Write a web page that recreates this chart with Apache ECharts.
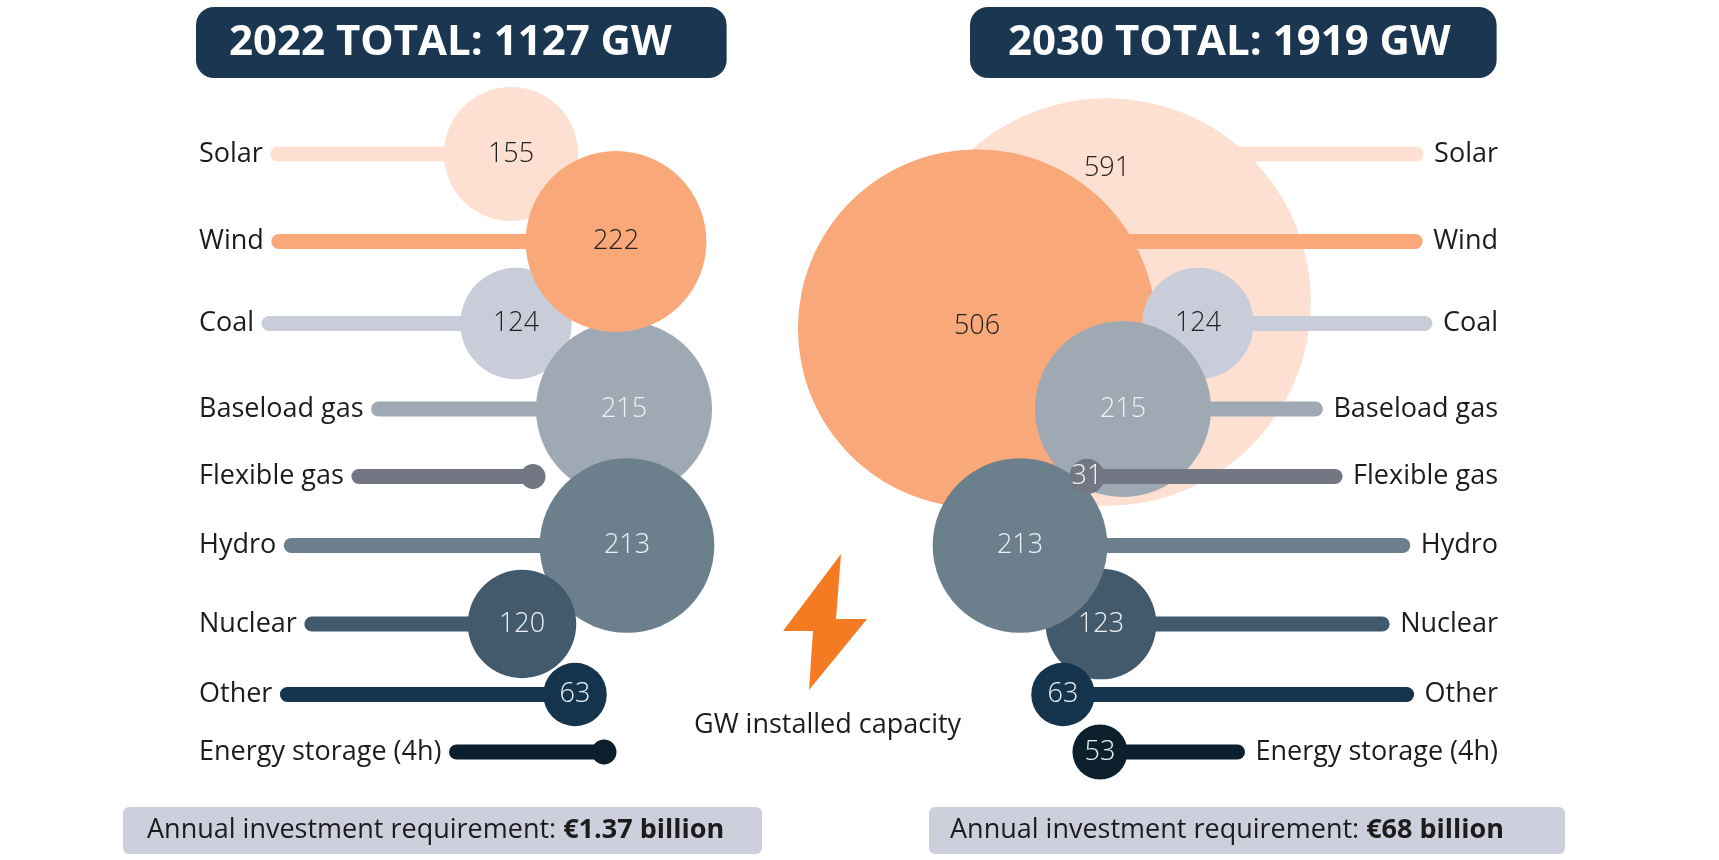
<!DOCTYPE html>
<html>
<head>
<meta charset="utf-8">
<title>GW installed capacity 2022 / 2030</title>
<script src="https://cdn.jsdelivr.net/npm/echarts@6/dist/echarts.min.js"></script>
<style>
    html, body { margin: 0; padding: 0; background: #fff; }
    #main { width: 1719px; height: 860px; }
</style>
</head>
<body>
<div id="main"></div>
<script>
// data
var categories = ['Solar', 'Wind', 'Coal', 'Baseload gas', 'Flexible gas', 'Hydro', 'Nuclear', 'Other', 'Energy storage (4h)'];
var gw2022 = [155, 222, 124, 215, 10, 213, 120, 63, 5];
var gw2030 = [591, 506, 124, 215, 31, 213, 123, 63, 53];
var invest2022 = '€1.37 billion';
var invest2030 = '€68 billion';

// layout of the infographic (axis units, the axes span the whole page)
var rowY = [154, 241.5, 323.5, 409, 476.5, 545.5, 624, 694.5, 752];
var dotX2022 = [511, 616, 516, 624, 533, 627, 522, 575, 604];
var dotX2030 = [1107, 977, 1198, 1123, 1087, 1020, 1101, 1063, 1100];
var drop2022 = [0, 0, 0, 0, 0, 0, 0, 0, 0];
var drop2030 = [148, 87, 0, 0, 0, 0, 0, 0, 0];
var labelDrop2022 = [0, 0, 0, 0, 0, 0, 0, 0, 0];
var labelDrop2030 = [14, 85, 0, 0, 0, 0, 0, 0, 0];
var order2022 = [0, 2, 3, 1, 4, 5, 6, 7, 8];
var order2030 = [0, 1, 2, 3, 6, 5, 4, 7, 8];

var colors = ['#fde0d2', '#f9a87a', '#c9cdd9', '#9ea9b3', '#737683', '#6c7f8c', '#435a6d', '#15354f', '#0b1f2d'];
var darkNumber = [true, true, true, false, false, false, false, false, false];

var FONT = 'Open Sans';
var canvasCtx = document.createElement('canvas').getContext('2d');
function textWidth(s, size) {
    canvasCtx.font = size + 'px "' + FONT + '"';
    return canvasCtx.measureText(s).width;
}
// bubble radius in px from GW
function radius(v) {
    return Math.max(12.5, 1.02 * Math.pow(v, 0.83));
}
function sum(a) {
    return a.reduce(function (s, v) { return s + v; }, 0);
}

function panel(values, dotX, drop, labelDrop, order, side) {
    return {
        type: 'custom',
        coordinateSystem: 'cartesian2d',
        clip: false,
        silent: true,
        data: order.map(function (i) {
            return [i, dotX[i], rowY[i] + drop[i], values[i]];
        }),
        encode: {x: 1, y: 2},
        renderItem: function (params, api) {
            var i = api.value(0);
            var v = api.value(3);
            var c = api.coord([api.value(1), api.value(2)]);
            var row = api.coord([api.value(1), rowY[i]])[1];
            var r = radius(v);
            var name = categories[i];
            var w = textWidth(name, 27);
            var labelX, align, x1, x2;
            if (side === 'left') {
                labelX = api.coord([199, 0])[0];
                align = 'left';
                x1 = labelX + w + 15;
                x2 = c[0];
            } else {
                labelX = api.coord([1498, 0])[0];
                align = 'right';
                x1 = c[0];
                x2 = labelX - w - 18;
            }
            var children = [
                {
                    type: 'line',
                    shape: {x1: x1, y1: row, x2: x2, y2: row},
                    style: {stroke: colors[i], lineWidth: 15, lineCap: 'round'}
                },
                {
                    type: 'circle',
                    shape: {cx: c[0], cy: c[1], r: r},
                    style: {fill: colors[i]}
                },
                {
                    type: 'text',
                    style: {
                        x: labelX, y: row, text: name,
                        fill: '#1c1c1c', fontSize: 27, fontFamily: FONT,
                        align: align, verticalAlign: 'middle'
                    }
                }
            ];
            if (v >= 20) {
                children.push({
                    type: 'text',
                    style: {
                        x: c[0], y: row + labelDrop[i], text: String(v),
                        fill: darkNumber[i] ? '#222' : '#eef1f4',
                        fontSize: 27, fontWeight: 300, fontFamily: FONT,
                        align: 'center', verticalAlign: 'middle'
                    }
                });
            }
            return {type: 'group', children: children};
        }
    };
}

var chart = echarts.init(document.getElementById('main'));

var titleBox = {
    backgroundColor: '#1a3650',
    borderRadius: 18,
    top: 7,
    textStyle: {color: '#fff', fontSize: 42, fontWeight: 'bold', fontFamily: FONT, lineHeight: 50}
};
var investStyle = {
    width: 615,
    height: 35,
    lineHeight: 35,
    fontFamily: FONT,
    fontWeight: 'normal',
    rich: {
        a: {fontSize: 27, fontFamily: FONT, fontWeight: 'normal', color: '#1c1c1c', lineHeight: 35},
        b: {fontSize: 27, fontFamily: FONT, fontWeight: 'bold', color: '#1c1c1c', lineHeight: 35}
    }
};

var option = {
    animation: false,
    backgroundColor: '#fff',
    title: [
        echarts.util.extend({text: '2022 TOTAL: ' + sum(gw2022) + ' GW', left: 196, padding: [11, 55, 10, 33]}, titleBox),
        echarts.util.extend({text: '2030 TOTAL: ' + sum(gw2030) + ' GW', left: 970, padding: [11, 46, 10, 38]}, titleBox),
        {
            text: '{a|Annual investment requirement: }{b|' + invest2022 + '}',
            left: 123, top: 807, backgroundColor: '#cdd0dc', borderRadius: 6,
            padding: [6, 0, 6, 24], textStyle: investStyle
        },
        {
            text: '{a|Annual investment requirement: }{b|' + invest2030 + '}',
            left: 929, top: 807, backgroundColor: '#cdd0dc', borderRadius: 6,
            padding: [6, 0, 6, 21], textStyle: investStyle
        },
        {
            text: 'GW installed capacity',
            left: 694, top: 706, padding: 0,
            textStyle: {fontSize: 27, fontWeight: 'normal', fontFamily: FONT, color: '#1c1c1c', lineHeight: 38}
        }
    ],
    grid: {left: 0, right: 0, top: 0, bottom: 0},
    xAxis: {type: 'value', min: 0, max: 1719, show: false},
    yAxis: {type: 'value', min: 0, max: 860, inverse: true, show: false},
    graphic: [
        {
            type: 'polygon',
            shape: {points: [[841, 554], [783, 631], [813, 631], [809, 690], [867, 619], [836, 619]]},
            style: {fill: '#f57b22'}
        }
    ],
    series: [
        panel(gw2022, dotX2022, drop2022, labelDrop2022, order2022, 'left'),
        panel(gw2030, dotX2030, drop2030, labelDrop2030, order2030, 'right')
    ]
};

chart.setOption(option);
</script>
</body>
</html>
